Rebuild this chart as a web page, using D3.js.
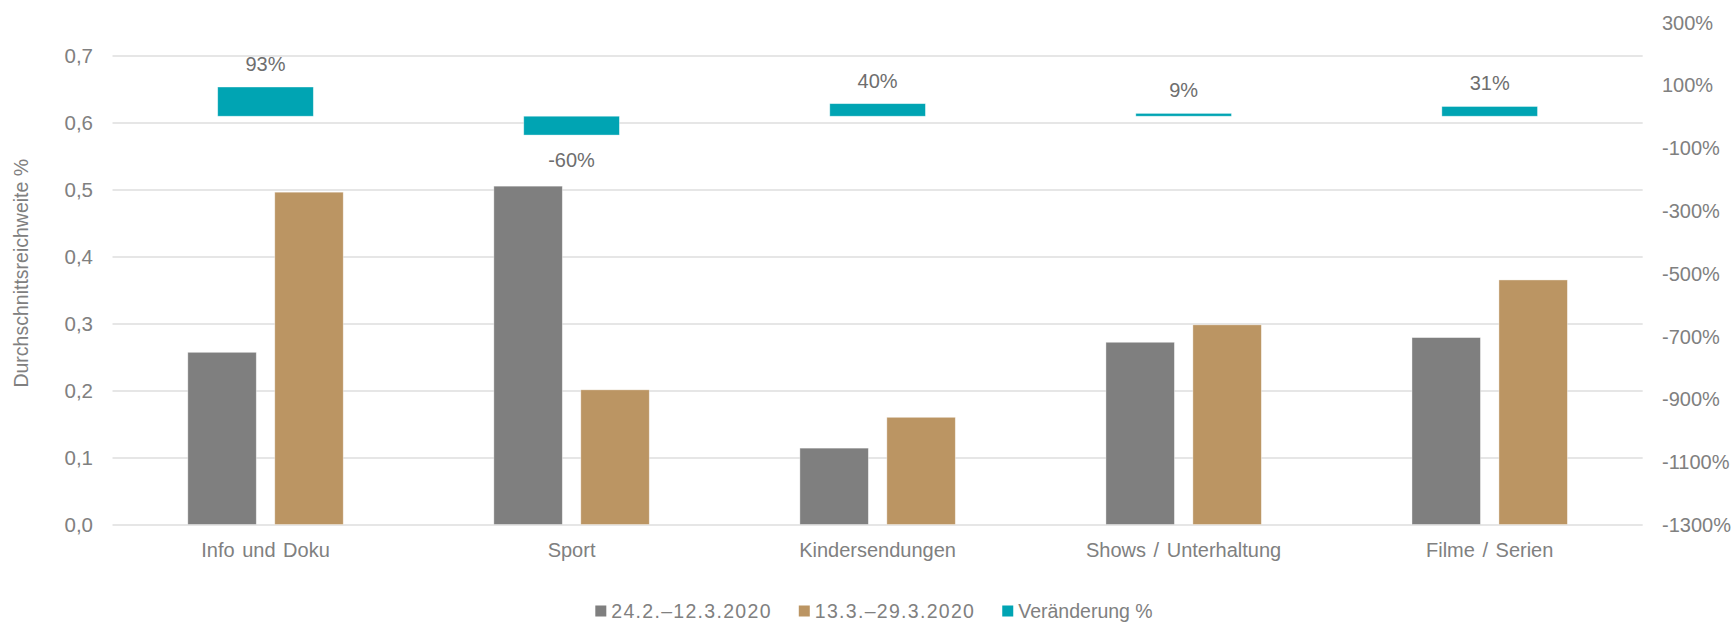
<!DOCTYPE html>
<html>
<head>
<meta charset="utf-8">
<script src="https://cdn.jsdelivr.net/npm/d3@7"></script>
<style>
  html, body { margin: 0; padding: 0; background: #ffffff; }
  svg { display: block; font-family: "Liberation Sans", Arial, sans-serif; }
</style>
</head>
<body>
<svg id="chart" width="1735" height="622"></svg>
<script>
// ---- data ----
const categories = ["Info und Doku", "Sport", "Kindersendungen", "Shows / Unterhaltung", "Filme / Serien"];
const seriesNames = ["24.2.\u201312.3.2020", "13.3.\u201329.3.2020", "Ver\u00e4nderung %"];
const period1 = [0.257, 0.505, 0.114, 0.272, 0.279];
const period2 = [0.496, 0.201, 0.160, 0.298, 0.365];
const change = [0.93, -0.60, 0.40, 0.09, 0.31];
const changeLabels = ["93%", "-60%", "40%", "9%", "31%"];
const leftTicks = [0, 0.1, 0.2, 0.3, 0.4, 0.5, 0.6, 0.7];
const rightTicks = [3, 1, -1, -3, -5, -7, -9, -11, -13];
const yTitle = "Durchschnittsreichweite %";

// ---- layout ----
const W = 1735, H = 622;
const plot = { left: 112.5, right: 1642.7, top: 22, bottom: 524.5 };
const colors = ["#7f7f7f", "#bb9563", "#00a4b3"];
const textGrey = "#808080";
const labelGrey = "#6e6e6e";

const svg = d3.select("#chart");

const x = d3.scaleBand().domain(categories).range([plot.left, plot.right]).padding(0);
const yL = d3.scaleLinear().domain([0, 0.75]).range([plot.bottom, plot.top]);
const yR = d3.scaleLinear().domain([-13, 3]).range([plot.bottom, plot.top]);

// Excel-like bar geometry
const bw = x.bandwidth();
const gapPrimary = 2.2, overlapPrimary = -0.27;
const wP = bw / (2 - overlapPrimary + gapPrimary);
const gapSecondary = 2.2;
const wS = bw / (1 + gapSecondary);

// gridlines
const grid = svg.append("g").attr("transform", `translate(${plot.left},0)`)
  .call(d3.axisLeft(yL).tickValues(leftTicks).tickSize(-(plot.right - plot.left)).tickFormat(""));
grid.select(".domain").remove();
grid.selectAll("line").attr("stroke", "#dedede").attr("stroke-width", 1.5);

// left axis labels
const fmtL = v => d3.format(".1f")(v).replace(".", ",");
const axL = svg.append("g").attr("transform", `translate(93,0)`)
  .call(d3.axisLeft(yL).tickValues(leftTicks).tickSize(0).tickPadding(0).tickFormat(fmtL));
axL.select(".domain").remove();
axL.selectAll("text").attr("fill", textGrey).style("font-size", "20.5px")
  .style("font-family", "'Liberation Sans', Arial, sans-serif").attr("dy", "0.35em").attr("x", 0);

// right axis labels
const axR = svg.append("g").attr("transform", `translate(1662,0)`)
  .call(d3.axisRight(yR).tickValues(rightTicks).tickSize(0).tickPadding(0).tickFormat(v => (v * 100) + "%"));
axR.select(".domain").remove();
axR.selectAll("text").attr("fill", textGrey).style("font-size", "20px")
  .style("font-family", "'Liberation Sans', Arial, sans-serif").attr("dy", "0.35em").attr("x", 0);

// y title
svg.append("text")
  .attr("transform", `translate(21,${(plot.top + plot.bottom) / 2}) rotate(-90)`)
  .attr("text-anchor", "middle").attr("dy", "0.35em")
  .attr("fill", textGrey).style("font-size", "19.5px")
  .text(yTitle);

// primary bars
const groupW = 2 * wP - overlapPrimary * wP;
const primary = [period1, period2];
primary.forEach((vals, si) => {
  svg.append("g").selectAll("rect").data(categories).join("rect")
    .attr("x", (c, i) => x(c) + bw / 2 - groupW / 2 + si * (wP - overlapPrimary * wP))
    .attr("width", wP)
    .attr("y", (c, i) => yL(vals[i]))
    .attr("height", (c, i) => yL(0) - yL(vals[i]))
    .attr("fill", colors[si])
    .attr("stroke", "#ffffff").attr("stroke-opacity", 0.5).attr("stroke-width", 0.75);
});

// secondary bars (change %)
svg.append("g").selectAll("rect").data(categories).join("rect")
  .attr("x", c => x(c) + bw / 2 - wS / 2)
  .attr("width", wS)
  .attr("y", (c, i) => Math.min(yR(change[i]), yR(0)))
  .attr("height", (c, i) => Math.abs(yR(change[i]) - yR(0)))
  .attr("fill", colors[2])
  .attr("stroke", "#ffffff").attr("stroke-opacity", 0.5).attr("stroke-width", 0.75);

// data labels
svg.append("g").selectAll("text").data(categories).join("text")
  .attr("x", c => x(c) + bw / 2)
  .attr("y", (c, i) => change[i] >= 0 ? yR(change[i]) - 23 : yR(change[i]) + 25)
  .attr("dy", "0.35em")
  .attr("text-anchor", "middle")
  .attr("fill", labelGrey).style("font-size", "20px")
  .text((c, i) => changeLabels[i]);

// category labels
svg.append("g").selectAll("text").data(categories).join("text")
  .attr("x", c => x(c) + bw / 2)
  .attr("y", 550)
  .attr("dy", "0.35em")
  .attr("text-anchor", "middle")
  .attr("fill", textGrey).style("font-size", "20px").style("word-spacing", "2px")
  .text(c => c);

// legend
const legend = svg.append("g");
const items = legend.selectAll("g").data(seriesNames).join("g");
items.append("rect").attr("width", 11).attr("height", 11).attr("y", -5.5)
  .attr("fill", (d, i) => colors[i]);
items.append("text").attr("x", 16).attr("dy", "0.35em")
  .attr("fill", textGrey).style("font-size", "19.5px")
  .style("letter-spacing", (d, i) => i < 2 ? "1.3px" : "0px")
  .text(d => d);
let cx = 0;
const offs = [];
items.each(function (d, i) {
  const tw = d3.select(this).select("text").node().getComputedTextLength();
  offs.push(cx);
  cx += 16 + tw + 27;
});
const totalW = cx - 27;
const legStart = 874 - totalW / 2;
items.attr("transform", (d, i) => `translate(${legStart + offs[i]},611)`);
</script>
</body>
</html>
